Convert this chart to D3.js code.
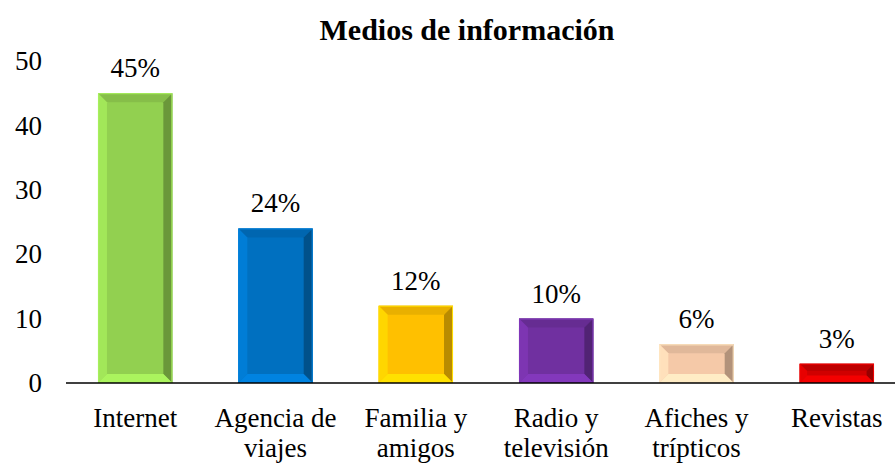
<!DOCTYPE html>
<html>
<head>
<meta charset="UTF-8">
</head>
<body style="margin:0">
<svg id="chart" width="895" height="464" font-family="Liberation Serif">
  <text id="title" x="467" y="40" text-anchor="middle" font-size="30" font-weight="bold">Medios de información</text>
</svg>
<script src="https://d3js.org/d3.v7.min.js"></script>
<script>
// data
const categories = ["Internet", "Agencia de viajes", "Familia y amigos", "Radio y televisión", "Afiches y trípticos", "Revistas"];
const categoryLines = [["Internet"], ["Agencia de", "viajes"], ["Familia y", "amigos"], ["Radio y", "televisión"], ["Afiches y", "trípticos"], ["Revistas"]];
const values = [45, 24, 12, 10, 6, 3];
const valueLabels = ["45%", "24%", "12%", "10%", "6%", "3%"];
const colors = ["#92D050", "#0070C0", "#FFC000", "#7030A0", "#F5C9A8", "#D00000"];
const yTicks = [0, 10, 20, 30, 40, 50];

const FONT = "'Liberation Serif', 'Times New Roman', serif";
const width = 895, height = 464;
const svg = d3.select("#chart");

const x = d3.scaleBand().domain(categories).range([65, 907]).paddingInner(0.47).paddingOuter(0.235);
const y = d3.scaleLinear().domain([0, 50]).range([383, 61]);

// y axis labels (no line)
const yAxis = svg.append("g")
  .attr("transform", "translate(48,0)")
  .call(d3.axisLeft(y).tickValues(yTicks).tickSize(0).tickPadding(6));
yAxis.attr("font-size", 27);
yAxis.select(".domain").remove();
yAxis.selectAll("text").attr("fill", "#000");

// bars with bevel
const bars = svg.append("g").selectAll("g")
  .data(values.map((v, i) => ({ v, i, c: categories[i] })))
  .join("g");

bars.each(function(d) {
  const g = d3.select(this);
  const x0 = x(d.c), w = x.bandwidth();
  const y0 = y(d.v), y1 = y(0), h = y1 - y0;
  const b = Math.min(9, h / 2.6);
  const base = d3.color(colors[d.i]);
  const x1 = x0 + w;
  const face = (pts, col) => g.append("polygon")
    .attr("points", pts.map(p => p.join(",")).join(" "))
    .attr("fill", col);
  face([[x0, y0], [x1, y0], [x1, y1], [x0, y1]], base.formatHex());
  face([[x0, y0], [x1, y0], [x1 - b, y0 + b], [x0 + b, y0 + b]], base.darker(0.25).formatHex());
  face([[x0, y0], [x0 + b, y0 + b], [x0 + b, y1 - b], [x0, y1]], base.brighter(0.3).formatHex());
  face([[x1, y0], [x1, y1], [x1 - b, y1 - b], [x1 - b, y0 + b]], base.darker(0.9).formatHex());
  face([[x0, y1], [x0 + b, y1 - b], [x1 - b, y1 - b], [x1, y1]], base.brighter(0.45).formatHex());
  g.append("rect")
    .attr("x", x0 + 0.5).attr("y", y0 + 0.5).attr("width", w - 1).attr("height", h - 1)
    .attr("fill", "none").attr("stroke", base.brighter(0.4).formatHex()).attr("stroke-width", 1);
});

// value labels
svg.append("g").selectAll("text")
  .data(values)
  .join("text")
  .attr("x", (d, i) => x(categories[i]) + x.bandwidth() / 2)
  .attr("y", d => y(d) - 16)
  .attr("text-anchor", "middle")
  .attr("font-size", 27)
  .text((d, i) => valueLabels[i]);

// x axis line
svg.append("line")
  .attr("x1", 66).attr("x2", width)
  .attr("y1", y(0)).attr("y2", y(0))
  .attr("stroke", "#000").attr("stroke-width", 1.5);

// category labels
svg.append("g").selectAll("text")
  .data(categoryLines)
  .join("text")
  .attr("x", (d, i) => x(categories[i]) + x.bandwidth() / 2)
  .attr("y", 427)
  .attr("text-anchor", "middle")
  .attr("font-size", 27)
  .selectAll("tspan")
  .data(d => d)
  .join("tspan")
  .attr("x", function() { return d3.select(this.parentNode).attr("x"); })
  .attr("dy", (d, j) => j === 0 ? 0 : 30)
  .text(d => d);

// force the serif face on every text
svg.selectAll("text, tspan").style("font-family", FONT, "important");
</script>
</body>
</html>
